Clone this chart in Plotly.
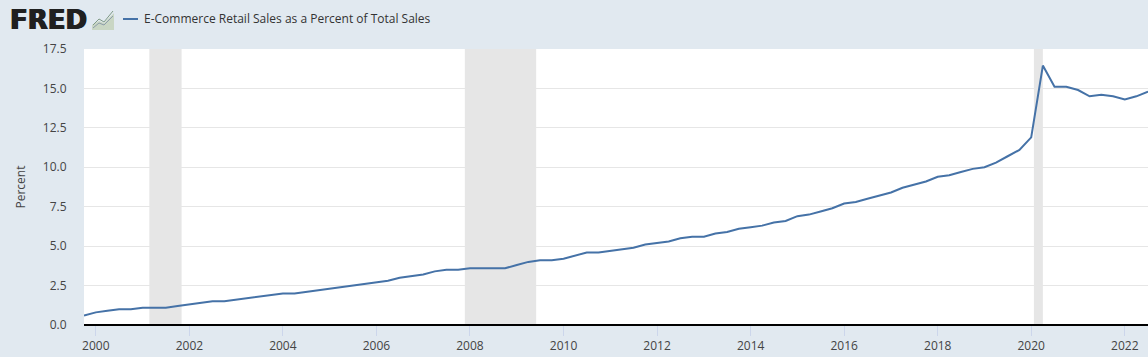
import pandas as pd
import plotly.graph_objects as go

TITLE = "E-Commerce Retail Sales as a Percent of Total Sales"
Y_TITLE = "Percent"
LOGO = "FRED"

start_quarter = "1999-10-01"
percent_values = [
    0.6,
    0.8, 0.9, 1.0, 1.0,
    1.1, 1.1, 1.1, 1.2,
    1.3, 1.4, 1.5, 1.5,
    1.6, 1.7, 1.8, 1.9,
    2.0, 2.0, 2.1, 2.2,
    2.3, 2.4, 2.5, 2.6,
    2.7, 2.8, 3.0, 3.1,
    3.2, 3.4, 3.5, 3.5,
    3.6, 3.6, 3.6, 3.6,
    3.8, 4.0, 4.1, 4.1,
    4.2, 4.4, 4.6, 4.6,
    4.7, 4.8, 4.9, 5.1,
    5.2, 5.3, 5.5, 5.6,
    5.6, 5.8, 5.9, 6.1,
    6.2, 6.3, 6.5, 6.6,
    6.9, 7.0, 7.2, 7.4,
    7.7, 7.8, 8.0, 8.2,
    8.4, 8.7, 8.9, 9.1,
    9.4, 9.5, 9.7, 9.9,
    10.0, 10.3, 10.7, 11.1,
    11.9, 16.45, 15.1, 15.1,
    14.9, 14.5, 14.6, 14.5,
    14.3, 14.5, 14.8,
]
recessions = [
    ("2001-02-22", "2001-11-01"),
    ("2007-11-22", "2009-06-01"),
    ("2020-01-22", "2020-04-01"),
]
y_ticks = [0, 2.5, 5, 7.5, 10, 12.5, 15, 17.5]
y_tick_labels = ["0.0", "2.5", "5.0", "7.5", "10.0", "12.5", "15.0", "17.5"]
x_tick_years = list(range(2000, 2023, 2))

dates = pd.date_range(start_quarter, periods=len(percent_values), freq="QS")

BG = "#e1e9f0"
LINE = "#4572a7"
TEXT = "#444444"
W, H = 1148, 357
ML, MR, MT, MB = 84, 0, 49, 32

fig = go.Figure()
fig.add_trace(go.Scatter(
    x=dates, y=percent_values, mode="lines", name=TITLE,
    line=dict(color=LINE, width=2), showlegend=False,
))

for a, b in recessions:
    fig.add_vrect(x0=a, x1=b, fillcolor="#e6e6e6", opacity=1, line_width=0, layer="below")


# header decoration placed in page pixels, converted to the axes' paper space
def px(x, y):
    return (x - ML) / (W - ML - MR), 1 - (y - MT) / (H - MT - MB)


def path(points, close=False):
    parts = []
    for i, (x, y) in enumerate(points):
        u, v = px(x, y)
        parts.append(f"{'M' if i == 0 else 'L'}{u:.5f},{v:.5f}")
    return " ".join(parts) + (" Z" if close else "")


header_shapes = [
    dict(type="path", line_width=0, fillcolor="#c9d6c4",
         path=path([(92, 30), (92, 25), (99, 21), (104, 23), (114, 13), (114, 30)], True)),
    dict(type="path", line=dict(color="#7f9a86", width=1),
         path=path([(93, 25), (99, 19), (104, 22), (113, 11)])),
    dict(type="path", line=dict(color="#8c9cab", width=1),
         path=path([(93, 28), (99, 23), (104, 25), (113, 16)])),
    dict(type="path", line=dict(color=LINE, width=2),
         path=path([(123, 19), (138, 19)])),
]
for s in header_shapes:
    fig.add_shape(xref="paper", yref="paper", layer="above", **s)

lx, ly = px(9, 19.5)
fig.add_annotation(
    xref="paper", yref="paper", x=lx, y=ly, xanchor="left", yanchor="middle",
    text=f"<b>{LOGO}</b>", showarrow=False, borderpad=0,
    font=dict(family="DejaVu Sans", size=26, color="#202020",
              shadow="0.7px 0 0 #202020, -0.7px 0 0 #202020"),
)
tx, ty = px(143, 19)
fig.add_annotation(
    xref="paper", yref="paper", x=tx, y=ty, xanchor="left", yanchor="middle",
    text=TITLE, showarrow=False, borderpad=0,
    font=dict(family="Open Sans", size=12, color="#333333"),
)

fig.update_layout(
    width=W, height=H,
    margin=dict(l=ML, r=MR, t=MT, b=MB, autoexpand=False),
    paper_bgcolor=BG, plot_bgcolor="#ffffff",
    font=dict(family="Open Sans", size=12, color=TEXT),
    showlegend=False,
    xaxis=dict(
        type="date",
        range=[dates[0], dates[-1]],
        tickmode="array",
        tickvals=[f"{y}-01-01" for y in x_tick_years],
        ticktext=[str(y) for y in x_tick_years],
        showgrid=False, zeroline=False,
        ticks="outside", ticklen=10, tickcolor="#ccd6eb", tickwidth=1,
        showline=False,
        tickfont=dict(size=12, color=TEXT),
    ),
    yaxis=dict(
        range=[0, 17.5],
        tickmode="array", tickvals=y_ticks, ticktext=y_tick_labels,
        gridcolor="#e6e6e6", gridwidth=1, zeroline=True, zerolinecolor="#000000", zerolinewidth=2,
        showline=False, ticks="outside", ticklen=14, tickcolor="rgba(0,0,0,0)",
        tickfont=dict(size=12, color=TEXT),
        title=dict(text=Y_TITLE, font=dict(size=12, color=TEXT), standoff=14),
    ),
)

fig.write_html(
    "out.html",
    config={"displayModeBar": False},
    post_script="document.body.style.margin='0';document.body.style.background='#e1e9f0';",
)
